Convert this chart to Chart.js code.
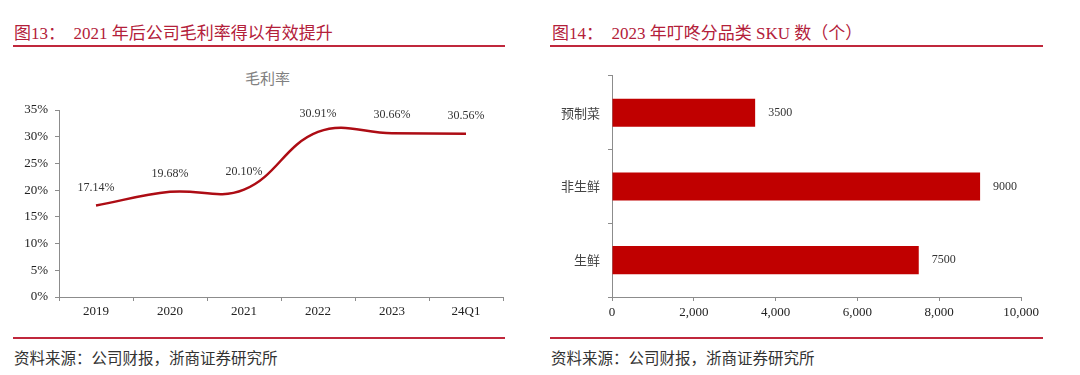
<!DOCTYPE html>
<html>
<head>
<meta charset="utf-8">
<script src="https://cdn.jsdelivr.net/npm/chart.js@4/dist/chart.umd.min.js"></script>
<style>
  body { margin: 0; width: 1080px; height: 375px; background: #fff; position: relative; overflow: hidden;
         font-family: "Liberation Serif", "Noto Sans CJK SC", serif; }
  .title { position: absolute; top: 19px; font-size: 17px; color: #b3203a; white-space: nowrap; }
  .rule { position: absolute; height: 2px; background: #c0283c; }
  .source { position: absolute; top: 346px; font-size: 15.5px; color: #333; white-space: nowrap; }
  .sub { position: absolute; left: 245px; top: 67px; font-size: 15px; color: #808080;
         font-family: "Noto Sans CJK SC", sans-serif; }
  canvas { position: absolute; }
</style>
</head>
<body>
<div class="title" style="left:14px">图13：&nbsp;&nbsp;2021 年后公司毛利率得以有效提升</div>
<div class="rule" style="left:13px; width:492px; top:45px"></div>
<div class="title" style="left:552px">图14：&nbsp;&nbsp;2023 年叮咚分品类 SKU 数（个）</div>
<div class="rule" style="left:550px; width:493px; top:45px"></div>
<div class="sub">毛利率</div>
<div class="rule" style="left:13px; width:492px; top:337px"></div>
<div class="rule" style="left:550px; width:493px; top:337px"></div>
<div class="source" style="left:14px">资料来源：公司财报，浙商证券研究所</div>
<div class="source" style="left:551px">资料来源：公司财报，浙商证券研究所</div>

<div style="position:absolute; left:0; top:60px; width:540px; height:280px"><canvas id="margin-chart"></canvas></div>
<div style="position:absolute; left:540px; top:60px; width:540px; height:280px"><canvas id="sku-chart"></canvas></div>

<script>
const years = ["2019", "2020", "2021", "2022", "2023", "24Q1"];
const grossMargin = [17.14, 19.68, 20.10, 30.91, 30.66, 30.56]; // %
const marginTicks = [0, 5, 10, 15, 20, 25, 30, 35];

const categories = ["预制菜", "非生鲜", "生鲜"];
const skuCounts = [3500, 9000, 7500];
const skuTicks = [0, 2000, 4000, 6000, 8000, 10000];

const serif = "'Liberation Serif', 'Noto Sans CJK SC', serif";
const axisGray = "#8c8c8c";

// draws the value text next to each point / bar
const valueLabels = {
    id: "valueLabels",
    afterDatasetsDraw(chart, args, opts) {
        const ctx = chart.ctx;
        const meta = chart.getDatasetMeta(0);
        const values = chart.data.datasets[0].data;
        ctx.save();
        ctx.font = "12px " + serif;
        ctx.fillStyle = "#333";
        meta.data.forEach((el, i) => {
            if (opts.horizontal) {
                ctx.textAlign = "left";
                ctx.textBaseline = "middle";
                ctx.fillText(String(values[i]), el.x + 13, el.y);
            } else {
                ctx.textAlign = "center";
                ctx.textBaseline = "middle";
                ctx.fillText(values[i].toFixed(2) + "%", el.x, el.y - 18);
            }
        });
        ctx.restore();
    }
};

new Chart(document.getElementById("margin-chart"), {
    type: "line",
    data: {
        labels: years,
        datasets: [{
            data: grossMargin,
            borderColor: "#ad0c14",
            borderWidth: 2.5,
            tension: 0.4,
            pointRadius: 0,
            fill: false
        }]
    },
    options: {
        responsive: true,
        maintainAspectRatio: false,
        animation: false,
        layout: { padding: { top: 50, right: 37, bottom: 13, left: 0 } },
        plugins: {
            legend: { display: false },
            tooltip: { enabled: false },
            valueLabels: { horizontal: false }
        },
        scales: {
            x: {
                offset: true,
                grid: { offset: true, drawOnChartArea: false, tickLength: 4, color: axisGray },
                border: { color: axisGray, width: 1 },
                ticks: { font: { family: serif, size: 13 }, color: "#222", padding: 3 },
                afterFit(scale) { scale.height = 30; }
            },
            y: {
                min: 0,
                max: 35,
                afterBuildTicks(scale) { scale.ticks = marginTicks.map(v => ({ value: v })); },
                grid: { drawOnChartArea: false, tickLength: 4, color: axisGray },
                border: { color: axisGray, width: 1 },
                ticks: {
                    font: { family: serif, size: 13 },
                    color: "#222",
                    padding: 7,
                    callback: v => v + "%"
                },
                afterFit(scale) { scale.width = 59; }
            }
        }
    },
    plugins: [valueLabels]
});

new Chart(document.getElementById("sku-chart"), {
    type: "bar",
    data: {
        labels: categories,
        datasets: [{
            data: skuCounts,
            backgroundColor: "#c00000",
            borderWidth: 0,
            categoryPercentage: 1.0,
            barPercentage: 0.38
        }]
    },
    options: {
        indexAxis: "y",
        responsive: true,
        maintainAspectRatio: false,
        animation: false,
        layout: { padding: { top: 13, right: 59, bottom: 13, left: 0 } },
        plugins: {
            legend: { display: false },
            tooltip: { enabled: false },
            valueLabels: { horizontal: true }
        },
        scales: {
            x: {
                min: 0,
                max: 10000,
                afterBuildTicks(scale) { scale.ticks = skuTicks.map(v => ({ value: v })); },
                grid: { drawOnChartArea: false, tickLength: 4, color: axisGray },
                border: { color: axisGray, width: 1 },
                ticks: {
                    font: { family: serif, size: 13 },
                    color: "#222",
                    padding: 4,
                    callback: v => v.toLocaleString("en-US")
                },
                afterFit(scale) { scale.height = 30; }
            },
            y: {
                grid: { offset: true, drawOnChartArea: false, tickLength: 4, color: axisGray },
                border: { color: axisGray, width: 1 },
                ticks: {
                    font: { family: "'Noto Sans CJK SC', sans-serif", size: 13 },
                    color: "#444",
                    padding: 8
                },
                afterFit(scale) { scale.width = 72; }
            }
        }
    },
    plugins: [valueLabels]
});
</script>
</body>
</html>
